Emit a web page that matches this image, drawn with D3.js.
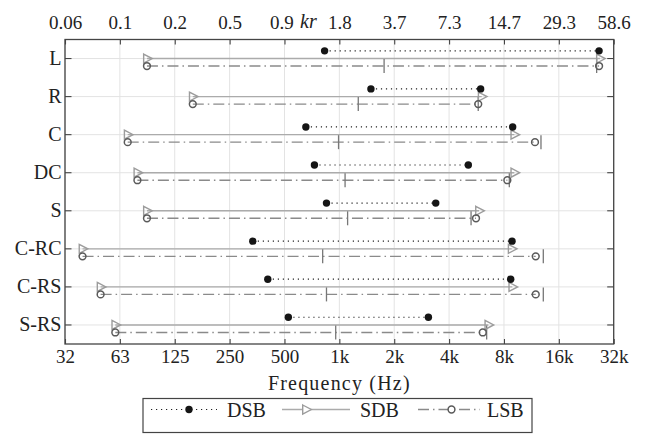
<!DOCTYPE html>
<html>
<head>
<meta charset="utf-8">
<script src="https://cdn.jsdelivr.net/npm/d3@7"></script>
<style>
  body { margin: 0; background: #fff; }
  svg text { font-family: "Liberation Serif", "Times New Roman", Times, "DejaVu Serif", serif; fill: #222; }
</style>
</head>
<body>
<div id="chart"></div>
<script>
// rows, top to bottom
const categories = ["L", "R", "C", "DC", "S", "C-RC", "C-RS", "S-RS"];

// frequency ranges (Hz)
const dsbLow  = [830, 1490, 655, 730, 850, 335, 405, 525];
const dsbHigh = [26600, 5960, 8930, 5100, 3380, 8860, 8710, 3080];
const sdbLow  = [88, 157, 69, 78, 88, 39, 49, 59];
const sdbHigh = [26900, 6040, 9120, 9120, 5840, 8820, 8890, 6570];
const lsbLow  = [88, 157, 69, 78, 88, 39, 49, 59];
const lsbHigh = [26600, 5780, 11840, 8350, 5620, 11950, 11950, 6120];
// the two vertical marks on the LSB lines
const lsbMid  = [1760, 1270, 990, 1075, 1110, 810, 850, 955];
const lsbEdge = [25800, 5780, 12770, 8560, 5280, 13150, 13150, 6430];

const freqTicks = [31.25, 62.5, 125, 250, 500, 1000, 2000, 4000, 8000, 16000, 32000];
const freqLabels = ["32", "63", "125", "250", "500", "1k", "2k", "4k", "8k", "16k", "32k"];
const krLabels = ["0.06", "0.1", "0.2", "0.5", "0.9", "1.8", "3.7", "7.3", "14.7", "29.3", "58.6"];

const canvas = { w: 647, h: 434 };
const plot = { left: 65, right: 613.7, top: 39.5, bottom: 344 };
const serif = "'Liberation Serif', 'Times New Roman', Times, 'DejaVu Serif', serif";

const svg = d3.select("#chart")
  .append("svg")
  .attr("width", canvas.w)
  .attr("height", canvas.h);

const x = d3.scaleLog()
  .base(2)
  .domain([31.25, 32000])
  .range([plot.left, plot.right]);

const y = d3.scaleBand()
  .domain(categories)
  .range([plot.top, plot.bottom]);

const yc = c => y(c) + y.bandwidth() / 2;
const offDSB = -7.7, offLSB = 7.5;

// grid
const grid = svg.append("g");
grid.selectAll("line.v")
  .data(freqTicks)
  .enter()
  .append("line")
  .attr("x1", d => x(d)).attr("x2", d => x(d))
  .attr("y1", plot.top).attr("y2", plot.bottom)
  .attr("stroke", "#e3e3e3")
  .attr("stroke-width", 1);
grid.selectAll("line.h")
  .data(categories)
  .enter()
  .append("line")
  .attr("x1", plot.left).attr("x2", plot.right)
  .attr("y1", d => yc(d)).attr("y2", d => yc(d))
  .attr("stroke", "#e3e3e3")
  .attr("stroke-width", 1);

const rows = categories.map((c, i) => ({ c, i }));
const marks = svg.append("g");

// SDB: solid gray
marks.selectAll("line.sdb")
  .data(rows)
  .enter()
  .append("line")
  .attr("x1", d => x(sdbLow[d.i])).attr("x2", d => x(sdbHigh[d.i]))
  .attr("y1", d => yc(d.c)).attr("y2", d => yc(d.c))
  .attr("stroke", "#ababab")
  .attr("stroke-width", 1.4);

// LSB: dash-dot
marks.selectAll("line.lsb")
  .data(rows)
  .enter()
  .append("line")
  .attr("x1", d => x(lsbLow[d.i])).attr("x2", d => x(lsbHigh[d.i]))
  .attr("y1", d => yc(d.c) + offLSB).attr("y2", d => yc(d.c) + offLSB)
  .attr("stroke", "#8a8a8a")
  .attr("stroke-width", 1.4)
  .attr("stroke-dasharray", "11,4,1.5,4");

// DSB: dotted black
marks.selectAll("line.dsb")
  .data(rows)
  .enter()
  .append("line")
  .attr("x1", d => x(dsbLow[d.i])).attr("x2", d => x(dsbHigh[d.i]))
  .attr("y1", d => yc(d.c) + offDSB).attr("y2", d => yc(d.c) + offDSB)
  .attr("stroke", "#222")
  .attr("stroke-width", 1.2)
  .attr("stroke-dasharray", "1.2,3.8");

// vertical marks on LSB
[lsbMid, lsbEdge].forEach(arr => {
  marks.selectAll(null)
    .data(rows)
    .enter()
    .append("line")
    .attr("x1", d => x(arr[d.i])).attr("x2", d => x(arr[d.i]))
    .attr("y1", d => yc(d.c) + offLSB - 7).attr("y2", d => yc(d.c) + offLSB + 7)
    .attr("stroke", "#777")
    .attr("stroke-width", 1.3);
});

const triPath = "M-3.3,-4.5L5.3,0L-3.3,4.5Z";

// markers
[sdbLow, sdbHigh].forEach(arr => {
  marks.selectAll(null)
    .data(rows)
    .enter()
    .append("path")
    .attr("d", triPath)
    .attr("transform", d => `translate(${x(arr[d.i])},${yc(d.c)})`)
    .attr("fill", "none")
    .attr("stroke", "#9c9c9c")
    .attr("stroke-width", 1.4);
});
[lsbLow, lsbHigh].forEach(arr => {
  marks.selectAll(null)
    .data(rows)
    .enter()
    .append("circle")
    .attr("cx", d => x(arr[d.i]))
    .attr("cy", d => yc(d.c) + offLSB)
    .attr("r", 3.4)
    .attr("fill", "none")
    .attr("stroke", "#5a5a5a")
    .attr("stroke-width", 1.5);
});
[dsbLow, dsbHigh].forEach(arr => {
  marks.selectAll(null)
    .data(rows)
    .enter()
    .append("circle")
    .attr("cx", d => x(arr[d.i]))
    .attr("cy", d => yc(d.c) + offDSB)
    .attr("r", 3.7)
    .attr("fill", "#151515");
});

// axes
const axisColor = "#444";
const bottomAxis = svg.append("g")
  .attr("transform", `translate(0,${plot.bottom})`)
  .call(d3.axisBottom(x).tickValues(freqTicks).tickFormat((d, i) => freqLabels[i])
    .tickSizeInner(-5).tickSizeOuter(0).tickPadding(6));
const topAxis = svg.append("g")
  .attr("transform", `translate(0,${plot.top})`)
  .call(d3.axisTop(x).tickValues(freqTicks).tickFormat((d, i) => krLabels[i])
    .tickSizeInner(-5).tickSizeOuter(0).tickPadding(11));
const leftAxis = svg.append("g")
  .attr("transform", `translate(${plot.left},0)`)
  .call(d3.axisLeft(y).tickSizeInner(-6.5).tickSizeOuter(0).tickPadding(3.5));
const rightAxis = svg.append("g")
  .attr("transform", `translate(${plot.right},0)`)
  .call(d3.axisRight(y).tickSizeInner(-6.5).tickSizeOuter(0).tickFormat(""));

[bottomAxis, topAxis, leftAxis, rightAxis].forEach(a => {
  a.attr("font-family", serif);
  a.select(".domain").remove();
  a.selectAll(".tick line").attr("stroke", axisColor).attr("stroke-width", 1.1);
  a.selectAll(".tick text")
    .attr("font-family", serif)
    .attr("font-size", 19)
    .attr("fill", "#222");
});
leftAxis.selectAll(".tick text").attr("font-size", 20);
// "0.9" sits a little left of its tick to leave room for "kr"
topAxis.selectAll(".tick text").filter((d, i) => i === 4).attr("dx", -3);

svg.append("rect")
  .attr("x", plot.left).attr("y", plot.top)
  .attr("width", plot.right - plot.left)
  .attr("height", plot.bottom - plot.top)
  .attr("fill", "none")
  .attr("stroke", axisColor)
  .attr("stroke-width", 1.3);

// "kr" label on the top axis
svg.append("text")
  .attr("x", 300)
  .attr("y", 28.3)
  .attr("font-family", serif)
  .attr("font-size", 20)
  .attr("font-style", "italic")
  .text("kr");

svg.append("text")
  .attr("x", (plot.left + plot.right) / 2)
  .attr("y", 390)
  .attr("text-anchor", "middle")
  .attr("font-family", serif)
  .attr("font-size", 20)
  .attr("letter-spacing", 1.2)
  .text("Frequency (Hz)");

// legend
const legend = svg.append("g");
legend.append("rect")
  .attr("x", 143).attr("y", 398.5)
  .attr("width", 389).attr("height", 34)
  .attr("fill", "#fff")
  .attr("stroke", axisColor)
  .attr("stroke-width", 1.2);

const ly = 409.5;
const legendItems = [
  { name: "DSB", x1: 151, x2: 217, mx: 189, tx: 227 },
  { name: "SDB", x1: 282, x2: 350, mx: 306, tx: 360 },
  { name: "LSB", x1: 418, x2: 480, mx: 451.5, tx: 487 }
];
legendItems.forEach((it, k) => {
  const ln = legend.append("line")
    .attr("x1", it.x1).attr("x2", it.x2)
    .attr("y1", ly).attr("y2", ly);
  if (k === 0) {
    ln.attr("stroke", "#222").attr("stroke-width", 1.2).attr("stroke-dasharray", "1.2,3.8");
    legend.append("circle").attr("cx", it.mx).attr("cy", ly).attr("r", 3.7).attr("fill", "#151515");
  } else if (k === 1) {
    ln.attr("stroke", "#ababab").attr("stroke-width", 1.4);
    legend.append("path").attr("d", triPath)
      .attr("transform", `translate(${it.mx},${ly})`)
      .attr("fill", "#fff").attr("stroke", "#9c9c9c").attr("stroke-width", 1.4);
  } else {
    ln.attr("stroke", "#8a8a8a").attr("stroke-width", 1.4).attr("stroke-dasharray", "11,4,1.5,4");
    legend.append("circle").attr("cx", it.mx).attr("cy", ly).attr("r", 3.4)
      .attr("fill", "#fff").attr("stroke", "#5a5a5a").attr("stroke-width", 1.5);
  }
  legend.append("text")
    .attr("x", it.tx)
    .attr("y", ly + 7)
    .attr("font-family", serif)
    .attr("font-size", 20)
    .text(it.name);
});
</script>
</body>
</html>
